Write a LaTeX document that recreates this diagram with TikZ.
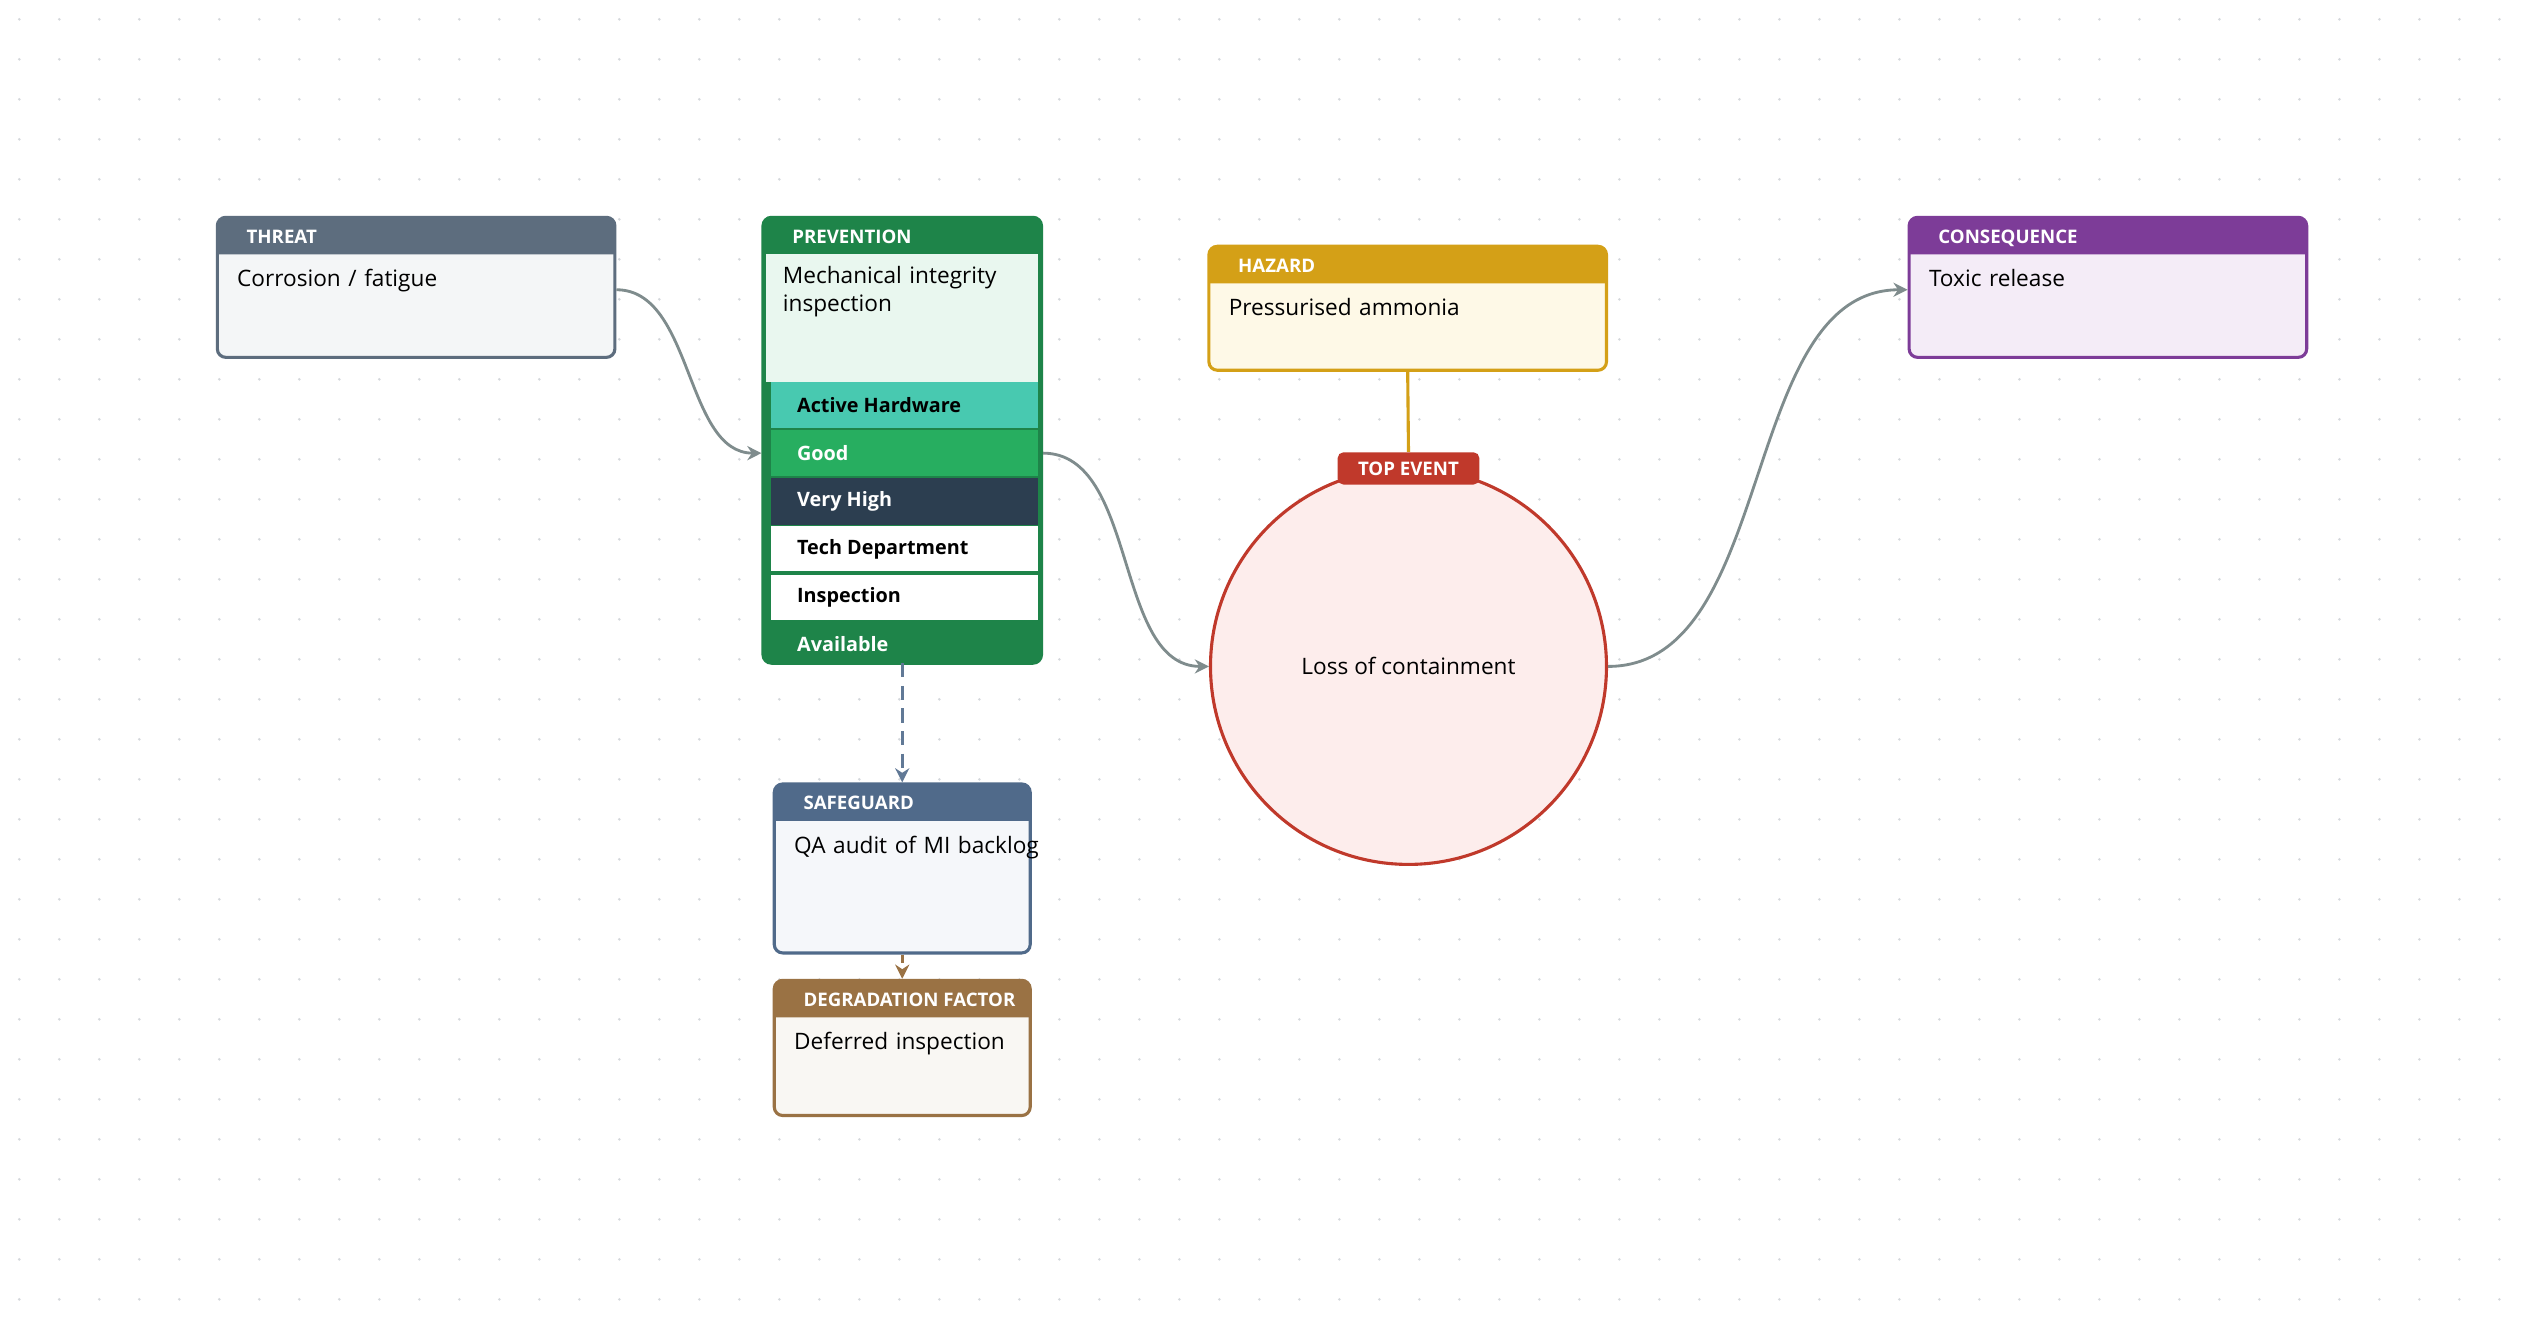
\documentclass[tikz,border=0pt]{standalone}
\usepackage{fontspec}
\setmainfont{Open Sans}
\usetikzlibrary{fit,arrows.meta,calc}
\definecolor{threatc}{HTML}{5D6D7E}\definecolor{threatf}{HTML}{F4F6F7}
\definecolor{prevc}{HTML}{1E8449}\definecolor{prevf}{HTML}{E9F7EF}
\definecolor{hazc}{HTML}{D4A017}\definecolor{hazf}{HTML}{FEF9E7}
\definecolor{consc}{HTML}{7D3C98}\definecolor{consf}{HTML}{F4ECF7}
\definecolor{safc}{HTML}{506A8A}\definecolor{saff}{HTML}{F5F7FA}
\definecolor{degc}{HTML}{9A7244}\definecolor{degf}{HTML}{F9F7F3}
\definecolor{topc}{HTML}{C0392B}\definecolor{topf}{HTML}{FDEDEC}
\definecolor{rowa}{HTML}{48C9B0}\definecolor{rowg}{HTML}{27AE60}\definecolor{rowv}{HTML}{2C3E50}
\definecolor{edgec}{HTML}{7F8C8D}\definecolor{dotc}{HTML}{D5D8DC}
\tikzset{
 box/.style={inner sep=0pt, line width=1.1pt, rounded corners=3pt},
 ttl/.style={anchor=base west, text=white, font=\fontsize{6.6}{8}\selectfont\bfseries},
 bdy/.style={anchor=north west, inner sep=0pt, align=left, text width=#1, font=\fontsize{8}{10}\selectfont},
 row/.style={anchor=west, font=\fontsize{7}{8}\selectfont\bfseries},
 edge/.style={draw=edgec, line width=1pt, -{Stealth[length=5pt,width=5pt]}},
}
\newcommand\bbox[9]{% name x1 y1 x2 y2 color fill title body
 \node[box, fit={(#2,#3)(#4,#5)}, fill=#7] (#1) {};
 \fill[#6] (#2,#3+23) [rounded corners=3pt]-- (#2,#3) -- (#4,#3) [sharp corners]-- (#4,#3+23) -- cycle;
 \node[box, fit={(#2,#3)(#4,#5)}, draw=#6] {};
 \node[ttl] at (#2+12,#3+16) {#8};
 \node[bdy=#4-#2-30] at (#2+12,#3+32) {#9};
}
\begin{document}
\begin{tikzpicture}[x=0.02cm,y=-0.02cm]
\useasboundingbox[fill=white] (0,0) rectangle (1568,829);
\foreach \i in {0,...,62}{\foreach \j in {0,...,32}{\fill[dotc] (12+\i*24.85,12+\j*24.85) circle (0.9);}}
\bbox{threat}{135}{135}{382}{222}{threatc}{threatf}{THREAT}{Corrosion / fatigue}
\bbox{cons}{1186}{135}{1433}{222}{consc}{consf}{CONSEQUENCE}{Toxic release}
\bbox{haz}{751}{153}{998}{230}{hazc}{hazf}{HAZARD}{Pressurised ammonia}
\bbox{safe}{481}{487}{640}{592}{safc}{saff}{SAFEGUARD}{QA audit of MI backlog}
\bbox{deg}{481}{609}{640}{693}{degc}{degf}{DEGRADATION FACTOR}{Deferred inspection}
% prevention
\node[box, fit={(474,135)(647,412)}, fill=prevc] (prev) {};
\fill[prevf] (476,158) rectangle (645,237);
\node[inner sep=0, fit={(479,237)(645,266)}, fill=rowa] (r1) {};
\node[inner sep=0, fit={(479,267)(645,296)}, fill=rowg] (r2) {};
\node[inner sep=0, fit={(479,297)(645,326)}, fill=rowv] (r3) {};
\node[inner sep=0, fit={(479,327)(645,355)}, fill=white] (r4) {};
\node[inner sep=0, fit={(479,357)(645,385)}, fill=white] (r5) {};
\node[box, fit={(474,135)(647,412)}, draw=prevc] {};
\node[ttl] at (486,151) {PREVENTION};
\node[bdy=140pt] at (486,165) {Mechanical integrity\\inspection};
\node[row] at (489,251.5) {Active Hardware};
\node[row,text=white] at (489,281.5) {Good};
\node[row,text=white] at (489,311.5) {Very High};
\node[row] at (489,341) {Tech Department};
\node[row] at (489,371) {Inspection};
\node[row,text=white] at (489,400) {Available};
% top event
\node[circle, minimum size=246*0.02cm, inner sep=0, fill=topf, draw=topc, line width=1.1pt, font=\fontsize{8}{10}\selectfont] (top) at (875,414) {Loss of containment};
\node[fill=topc, text=white, rounded corners=2pt, minimum width=88*0.02cm, minimum height=20*0.02cm, inner sep=0, font=\fontsize{6.6}{8}\selectfont\bfseries] (badge) at (875,291) {TOP EVENT};
\draw[hazc, line width=1.1pt] (haz.south) -- (badge.north);
% edges
\draw[edge] (threat.east |- 0,180) to[out=0,in=180,looseness=0.9] (prev.west |- r2.west);
\draw[edge] (prev.east |- r2.west) to[out=0,in=180,looseness=0.9] (top.west);
\draw[edge] (top.east) to[out=0,in=180,looseness=0.9] (cons.west |- 0,180);
\draw[safc!90!white, line width=1pt, dash pattern=on 5pt off 3pt, -{Stealth[length=5pt,width=5pt]}] (prev.south |- 0,412) -- (safe.north);
\draw[degc, line width=1pt, dash pattern=on 3pt off 2pt, -{Stealth[length=5pt,width=5pt]}] (safe.south) -- (deg.north);
\end{tikzpicture}
\end{document}
